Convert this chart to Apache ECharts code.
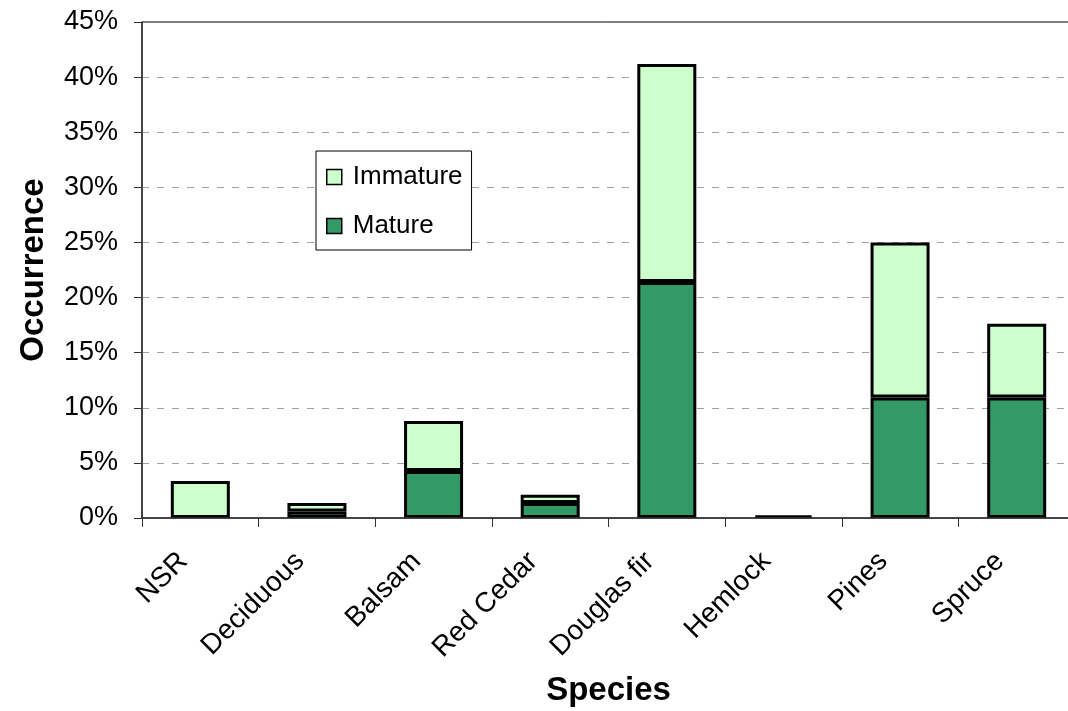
<!DOCTYPE html>
<html>
<head>
<meta charset="utf-8">
<script src="https://cdn.jsdelivr.net/npm/echarts@6/dist/echarts.min.js"></script>
<style>
  html, body { margin: 0; padding: 0; background: #fff; }
  #chart { width: 1068px; height: 711px; }
</style>
</head>
<body>
<div id="chart"></div>
<script>
// Species occurrence, split into mature and immature stands (percent); '-' = no bar
const species = ['NSR', 'Deciduous', 'Balsam', 'Red Cedar', 'Douglas fir', 'Hemlock', 'Pines', 'Spruce'];
const mature   = ['-',  0.6,  4.26, 1.36, 21.4, 0.24, 10.94, 10.94];
const immature = [3.36, 0.76, 4.54, 0.75, 19.8, '-',  14.06,  6.69];
const yTicks = { min: 0, max: 45, step: 5 };

const FONT = '"Liberation Sans", Arial, sans-serif';
const chart = echarts.init(document.getElementById('chart'), null, { renderer: 'canvas' });

const barStyle = (fill) => ({ color: fill, borderColor: '#000', borderWidth: 3 });

chart.setOption({
  animation: false,
  backgroundColor: '#fff',
  textStyle: { fontFamily: FONT, color: '#000' },
  grid: {
    left: 142, top: 22, width: 933, height: 496,
    outerBoundsMode: 'none',
    containLabel: false,
    show: true, borderColor: '#000', borderWidth: 1, backgroundColor: 'transparent'
  },
  legend: {
    orient: 'vertical',
    left: 316, top: 151,
    data: ['Immature', 'Mature'],
    icon: 'rect',
    itemWidth: 15, itemHeight: 15,
    itemGap: 23,
    padding: [13, 9, 11, 10],
    borderColor: '#000', borderWidth: 1,
    backgroundColor: '#fff',
    itemStyle: { borderColor: '#000', borderWidth: 1.5 },
    textStyle: { fontFamily: FONT, fontSize: 26, color: '#000', padding: [0, 0, 0, 6] }
  },
  xAxis: {
    type: 'category',
    data: species,
    name: 'Species',
    nameLocation: 'middle',
    nameGap: 156,
    nameTextStyle: { fontFamily: FONT, fontSize: 33, fontWeight: 'bold', color: '#000' },
    axisLine: { lineStyle: { color: '#333', width: 1.5 } },
    axisTick: { show: true, length: 9, lineStyle: { color: '#333' } },
    axisLabel: { rotate: 45, fontSize: 28, color: '#000', margin: 22, padding: [0, 24, 0, 0], fontFamily: FONT },
    z: 3
  },
  yAxis: {
    type: 'value',
    min: yTicks.min, max: yTicks.max, interval: yTicks.step,
    name: 'Occurrence',
    nameLocation: 'middle',
    nameGap: 92,
    nameTextStyle: { fontFamily: FONT, fontSize: 33, fontWeight: 'bold', color: '#000' },
    axisLine: { show: true, lineStyle: { color: '#333', width: 1.5 } },
    axisTick: { show: true, length: 8, lineStyle: { color: '#333' } },
    axisLabel: { formatter: '{value}%', fontSize: 27, color: '#000', margin: 24, fontFamily: FONT },
    splitLine: {
      show: true, showMinLine: false, showMaxLine: false,
      lineStyle: { color: '#a0a0a0', type: [7, 8], width: 1 }
    }
  },
  series: [
    { name: 'Mature', type: 'bar', stack: 'total', data: mature, barWidth: 59, itemStyle: barStyle('#339966') },
    { name: 'Immature', type: 'bar', stack: 'total', data: immature, barWidth: 59, itemStyle: barStyle('#CCFFCC') }
  ]
});
</script>
</body>
</html>
